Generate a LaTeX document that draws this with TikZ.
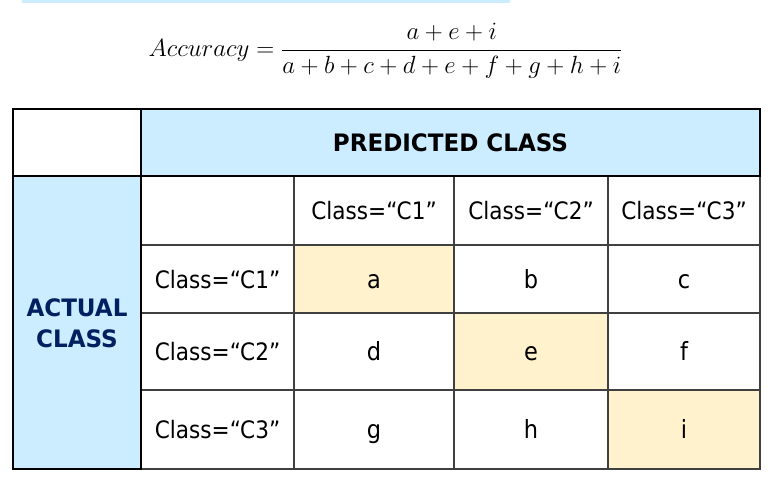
\documentclass[tikz,border=0pt]{standalone}
\usepackage{amsmath}
\usepackage{fontspec}
\setsansfont{DejaVu Sans}[FakeStretch=0.9]
\newfontfamily\headfont{DejaVu Sans}[FakeStretch=0.96]
\definecolor{paleblue}{RGB}{204, 236, 255}
\definecolor{paleyellow}{RGB}{255, 242, 204}
\definecolor{navy}{RGB}{0, 32, 96}
\definecolor{gridgray}{RGB}{64, 64, 64}
\tikzset{
  cell/.style={font=\sffamily\fontsize{24}{28}\selectfont, text height=18pt, text depth=0pt, anchor=center},
  entry/.style={cell, font=\sffamily\fontsize{25}{28}\selectfont},
  heading/.style={font=\headfont\bfseries\fontsize{24}{31}\selectfont, align=center},
  thinline/.style={color=gridgray, line width=1.2pt},
  thickline/.style={color=black, line width=2.5pt}
}
\begin{document}
\begin{tikzpicture}[x=1pt, y=-1pt]
            \useasboundingbox                  (  0,  0) rectangle (783,494);
            \fill[paleblue]                    ( 22,  0) rectangle (510,  3);
            \node (accuracy) at (385.5,51) {\fontsize{25}{30}\selectfont $\displaystyle Accuracy=\frac{a+e+i}{a+b+c+d+e+f+g+h+i}$};
            \fill[paleblue]                    (141,109) rectangle (760,176);
            \fill[paleblue]                    ( 13,176) rectangle (141,469);
            \fill[paleyellow]                  (294,245) rectangle (454,313);
            \fill[paleyellow]                  (454,313) rectangle (608,390);
            \fill[paleyellow]                  (608,390) rectangle (760,469);
            \draw[thinline]                    (141,176) rectangle (760,469);
            \draw[thinline]                    (294,176) -- (294,469);
            \draw[thinline]                    (454,176) -- (454,469);
            \draw[thinline]                    (608,176) -- (608,469);
            \draw[thinline]                    (141,245) -- (760,245);
            \draw[thinline]                    (141,313) -- (760,313);
            \draw[thinline]                    (141,390) -- (760,390);
            \draw[thickline]                   ( 13,109) rectangle (760,176);
            \draw[thickline]                   (141,109) -- (141,469);
            \draw[thickline]                   ( 13,176) rectangle (141,469);
            \node[heading]             (predicted) at (450.5,142.5) {PREDICTED CLASS};
            \node[heading, text=navy]  (actual)    at ( 77.0,323.0) {ACTUAL\\CLASS};
            \node[cell]  (predone)   at (374.0,210.5) {Class=“C1”};
            \node[cell]  (predtwo)   at (531.0,210.5) {Class=“C2”};
            \node[cell]  (predthree) at (684.0,210.5) {Class=“C3”};
            \node[cell]  (actone)    at (217.5,279.0) {Class=“C1”};
            \node[cell]  (acttwo)    at (217.5,351.5) {Class=“C2”};
            \node[cell]  (actthree)  at (217.5,429.5) {Class=“C3”};
            \node[entry] (cella)     at (374.0,279.0) {a};
            \node[entry] (cellb)     at (531.0,279.0) {b};
            \node[entry] (cellc)     at (684.0,279.0) {c};
            \node[entry] (celld)     at (374.0,351.5) {d};
            \node[entry] (celle)     at (531.0,351.5) {e};
            \node[entry] (cellf)     at (684.0,351.5) {f};
            \node[entry] (cellg)     at (374.0,429.5) {g};
            \node[entry] (cellh)     at (531.0,429.5) {h};
            \node[entry] (celli)     at (684.0,429.5) {i};
\end{tikzpicture}
\end{document}
